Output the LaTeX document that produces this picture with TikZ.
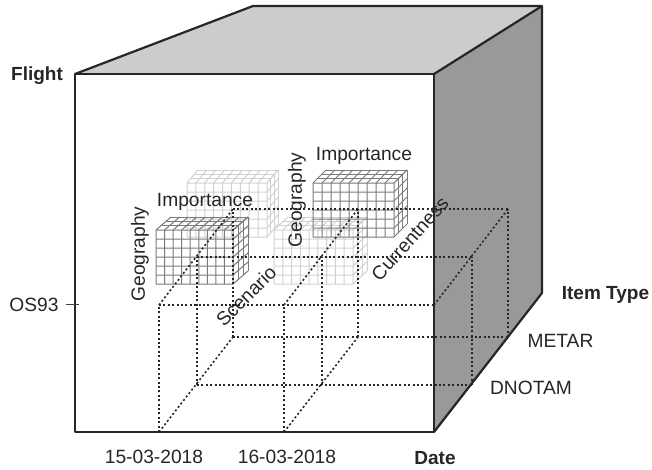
\documentclass[tikz,border=0pt]{standalone}
\usepackage{fontspec}
\setmainfont{Liberation Sans}
\newcommand{\minicube}[6]{% x y w dx colour linewidth
  \begin{scope}[draw=#5,line width=#6pt,line join=round]
    \foreach \i in {0,...,9} {
      \pgfmathsetmacro{\xx}{#1+#3*\i/9}
      \draw (\xx,#2+54) -- (\xx,#2) -- (\xx+#4,#2-13);
    }
    \foreach \j in {0,...,6} {
      \pgfmathsetmacro{\yy}{#2+9*\j}
      \draw (#1,\yy) -- (#1+#3,\yy) -- (#1+#3+#4,\yy-13);
    }
    \foreach \k in {1,2,3} {
      \pgfmathsetmacro{\kx}{#4*\k/3}
      \pgfmathsetmacro{\ky}{13*\k/3}
      \draw (#1+\kx,#2-\ky) -- (#1+#3+\kx,#2-\ky) -- (#1+#3+\kx,#2+54-\ky);
    }
  \end{scope}
}
\tikzset{
  face/.style={draw=black!85,line width=2.2pt,line join=round},
  grid/.style={dash pattern=on 2pt off 2.4pt,draw=black!85,line width=1.6pt},
  lab/.style={inner sep=0pt,text=black!85,font=\fontsize{19.2}{22}\selectfont},
  blab/.style={lab,font=\fontsize{19}{22}\selectfont\bfseries},
}
\begin{document}
\begin{tikzpicture}[x=1pt,y=-1pt]
\useasboundingbox (0,0) rectangle (652,469);
\coordinate (ftl) at (75,74);
\coordinate (ftr) at (434,74);
\coordinate (fbr) at (434,432);
\coordinate (fbl) at (75,432);
\coordinate (btr) at (542,6);
\coordinate (btl) at (253,6);
\coordinate (bbr) at (542,293);
\fill[black!20] (ftl) -- (btl) -- (btr) -- (ftr) -- cycle;
\fill[black!40] (ftr) -- (btr) -- (bbr) -- (fbr) -- cycle;
\minicube{187}{183}{80}{11}{black!18}{1}
\minicube{274}{230}{79}{14}{black!18}{1}
\minicube{156}{230}{77}{15}{black!52}{1}
\minicube{313}{183}{81}{13}{black!52}{1}
% dotted grid
\foreach \n/\x in {a/159,b/284,c/434} {
  \coordinate (\n1) at (\x,432);
  \coordinate (\n2) at (\x,305);
  \coordinate (\n3) at (\x+38,385);
  \coordinate (\n4) at (\x+38,257);
  \coordinate (\n5) at (\x+74,337);
  \coordinate (\n6) at (\x+74,209);
}
\foreach \n in {a,b,c} {
  \draw[grid] (\n1) -- (\n5);
  \draw[grid] (\n2) -- (\n6);
  \draw[grid] (\n3) -- (\n4);
  \draw[grid] (\n5) -- (\n6);
}
\foreach \n in {a,b} \draw[grid] (\n1) -- (\n2);
\draw[grid] (a2) -- (c2);
\draw[grid] (a3) -- (c3);
\draw[grid] (a4) -- (c4);
\draw[grid] (a5) -- (c5);
\draw[grid] (a6) -- (c6);
% cube
\draw[face] (ftl) rectangle (fbr);
\draw[face] (ftl) -- (btl) -- (btr) -- (bbr) -- (fbr);
\draw[face] (ftr) -- (btr);
\coordinate (tickl) at (66,304.5);
\coordinate (tickr) at (79,304.5);
\draw[black!75,line width=1pt] (tickl) -- (tickr);
% labels
\node[blab] (flight) at (37,76) {Flight};
\node[blab] (date) at (435,458) {Date};
\node[blab] (itemtype) at (605.5,295) {Item Type};
\node[lab] (os) at (34,305) {OS93};
\node[lab] (metar) at (560.5,340.5) {METAR};
\node[lab] (dnotam) at (531,388) {DNOTAM};
\node[lab] (d1) at (154,457) {15-03-2018};
\node[lab] (d2) at (287,457) {16-03-2018};
\node[lab] (imp1) at (205,202) {Importance};
\node[lab] (imp2) at (364,156) {Importance};
\node[lab,rotate=90] (geo1) at (140,254) {Geography};
\node[lab,rotate=90] (geo2) at (297,200) {Geography};
\node[lab,rotate=45] (scen) at (246,296) {Scenario};
\node[lab,rotate=48] (curr) at (410,239) {Currentness};
\end{tikzpicture}
\end{document}
